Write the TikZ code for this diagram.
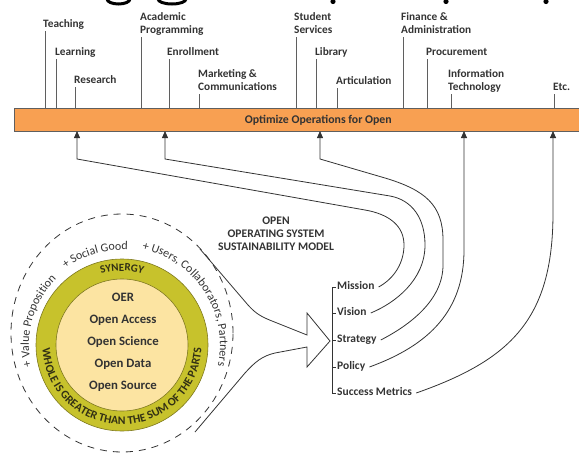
\documentclass[tikz,border=0pt]{standalone}
\usepackage{fontspec}
\setmainfont{Carlito}
\usetikzlibrary{arrows.meta,decorations.text,calc}
\definecolor{barorange}{RGB}{248,160,82}
\definecolor{ringolive}{RGB}{199,194,44}
\definecolor{ringedge}{RGB}{125,120,30}
\definecolor{innerfill}{RGB}{252,228,162}
\definecolor{txt}{RGB}{51,51,51}
\definecolor{linegray}{RGB}{95,95,95}
\definecolor{ringtxt}{RGB}{50,48,20}
\tikzset{
  lbl/.style={font=\fontsize{11.3}{13.5}\selectfont\bfseries, text=txt, inner sep=0pt, anchor=south west, align=left, text depth=3pt},
  tick/.style={draw=linegray, line width=0.8pt},
  conn/.style={draw=txt, line width=0.8pt, -{Triangle[width=6pt,length=7pt]}},
  mlbl/.style={font=\fontsize{11.5}{13}\selectfont\bfseries, text=txt, inner sep=0pt, anchor=west, text height=8pt, text depth=2.5pt},
  brk/.style={draw=txt, line width=0.8pt},
}
\begin{document}
\begin{tikzpicture}[x=1pt,y=1pt]
\useasboundingbox (0,0) rectangle (579,-453);

% fragments at top edge
\draw[line width=3pt] (107,1) arc[start angle=180,end angle=360,x radius=11.5,y radius=5];
\draw[line width=3pt] (158,1) arc[start angle=180,end angle=360,x radius=14,y radius=5];
\fill (333,-1.5) circle (2.6);
\fill (446,-1.5) circle (2.6);
\fill (546,-1.5) circle (2.6);

% bar
\node[draw=linegray, fill=barorange, line width=0.6pt, minimum width=608pt, minimum height=23pt, inner sep=0pt, anchor=north west, font=\fontsize{11.8}{13}\selectfont\bfseries, text=txt] (bar) at (14,-108) {Optimize Operations for Open};

% top labels
\node[lbl] (teach) at (43,-31) {Teaching};
\node[lbl] (learn) at (55,-59) {Learning};
\node[lbl] (research) at (74,-87) {Research};
\node[lbl] (acad) at (140,-37) {Academic\\Programming};
\node[lbl] (enroll) at (167,-59) {Enrollment};
\node[lbl] (market) at (198,-94) {Marketing \&\\Communications};
\node[lbl] (student) at (294,-37) {Student\\Services};
\node[lbl] (library) at (315,-59) {Library};
\node[lbl] (artic) at (336,-88) {Articulation};
\node[lbl] (finance) at (401,-37) {Finance \&\\Administration};
\node[lbl] (procure) at (426,-59) {Procurement};
\node[lbl] (infotech) at (448,-94) {Information\\Technology};
\node[lbl] (etc) at (553,-94) {Etc.};

\foreach \n/\d in {teach/2,learn/1,research/1,acad/1,enroll/2,market/1,student/2,library/1,artic/1,finance/2,procure/1,infotech/3,etc/1} {
  \coordinate (tk-\n) at ([xshift=\d]\n.south west);
  \draw[tick] (tk-\n) -- (tk-\n |- bar.north);
}

% arrow targets on the bar
\coordinate (a1) at (77,-131);
\coordinate (a2) at (165,-131);
\coordinate (a3) at (320,-131);
\coordinate (a4) at (464,-131);
\coordinate (a5) at (553,-131);

% title
\node[font=\fontsize{11.6}{13}\selectfont\bfseries, text=txt, align=center, inner sep=0pt] (title) at (276,-234) {OPEN\\OPERATING SYSTEM\\SUSTAINABILITY MODEL};

% model labels
\node[mlbl] (mission) at (337,-287) {Mission};
\node[mlbl] (vision) at (337,-313) {Vision};
\node[mlbl] (strategy) at (337,-340) {Strategy};
\node[mlbl] (policy) at (337,-367) {Policy};
\node[mlbl] (success) at (337,-393) {Success Metrics};

\draw[brk] ([xshift=-1]mission.west) -- ([xshift=-5]mission.west) -- ([xshift=-5]success.west) -- ([xshift=-1]success.west);
\foreach \n in {vision,strategy,policy} {
  \draw[brk] ([xshift=-5]\n.west) -- ([xshift=-1]\n.west);
}

% connectors
\draw[conn] ([xshift=4]mission.east) .. controls (395,-278) and (404,-262) .. (404,-245)
  .. controls (404,-225) and (388,-214) .. (365,-210) -- (77,-159) -- (a1);
\draw[conn] ([xshift=4]vision.east) .. controls (395,-303) and (425,-280) .. (425,-245)
  .. controls (425,-218) and (412,-200) .. (390,-196) -- (165,-159) -- (a2);
\draw[conn] ([xshift=4]strategy.east) .. controls (410,-325) and (443,-300) .. (443,-265)
  -- (443,-240) .. controls (443,-205) and (425,-190) .. (385,-178) -- (320,-159) -- (a3);
\draw[conn] ([xshift=4]policy.east) .. controls (430,-345) and (464,-310) .. (464,-250) -- (a4);
\draw[conn] ([xshift=4]success.east) .. controls (510,-360) and (553,-320) .. (553,-213) -- (a5);

% dashed outer circle
\draw[draw=txt, line width=0.8pt, dash pattern=on 7pt off 6pt] (122,-333) ellipse [x radius=111, y radius=119];

% big arrow
\draw[draw=txt, line width=0.8pt, line join=miter]
  (200,-249) -- (248,-305) .. controls (256,-314) and (262,-317) .. (272,-321) -- (307,-335)
  -- (307,-313) -- (330,-341) -- (307,-367) -- (307,-347) -- (275,-353)
  .. controls (262,-356) and (255,-362) .. (245,-373) -- (195,-432);

% ring
\coordinate (C) at (122,-345);
\fill[ringolive] (C) circle (86);
\draw[ringedge, line width=0.6pt] (C) circle (86);
\fill[innerfill] (C) circle (66);
\draw[ringedge, line width=0.6pt] (C) circle (66);

\node[font=\fontsize{12.8}{22}\selectfont\bfseries, text=txt, align=center, inner sep=0pt] (core) at (123,-342) {OER\\Open Access\\Open Science\\Open Data\\Open Source};

% ring texts
\path[decorate, decoration={text along path, text align=center, text={|\fontsize{11}{12}\selectfont\bfseries\color{ringtxt}|SYNERGY}}]
  (C) ++(125:74) arc[start angle=125, end angle=55, radius=74];
\path[decorate, decoration={text along path, text align=center, text={|\fontsize{11.6}{12}\selectfont\bfseries\color{ringtxt}|WHOLE IS GREATER THAN THE SUM OF THE PARTS}}]
  (C) ++(176:79.5) arc[start angle=176, end angle=364, radius=79.5];

% outer texts
\path[decorate, decoration={text along path, text align=center, text={|\fontsize{12}{13}\selectfont\color{txt}|+ Value Proposition}}]
  (C) ++(200:93) arc[start angle=200, end angle=128, radius=93];
\path[decorate, decoration={text along path, text align=center, text={|\fontsize{12}{13}\selectfont\color{txt}|+ Social Good}}]
  (C) ++(135:95) arc[start angle=135, end angle=78, radius=95];
\path[decorate, decoration={text along path, text align=center, text={|\fontsize{12}{13}\selectfont\color{txt}|+ Users, Collaborators, Partners}}]
  (C) ++(84:98) arc[start angle=84, end angle=-18, radius=98];
\end{tikzpicture}
\end{document}
